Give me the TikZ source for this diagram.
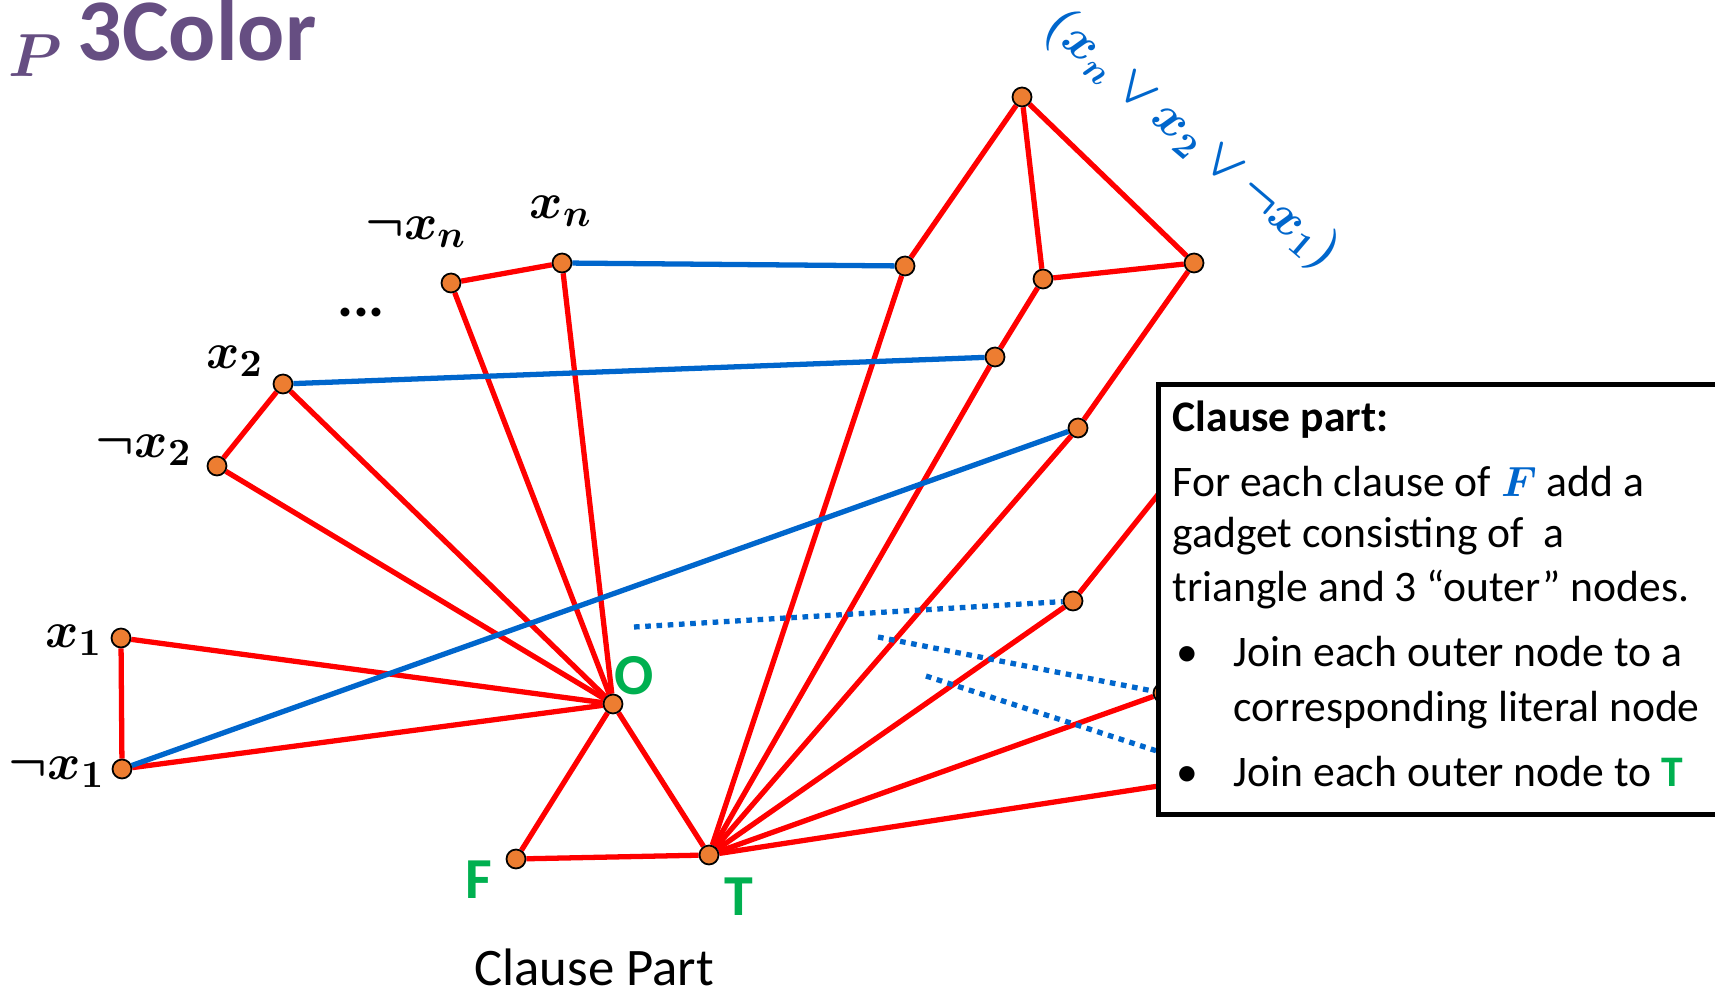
\documentclass[tikz,border=0pt]{standalone}
\usepackage{amsmath}
\usepackage{fontspec}
\setmainfont{Carlito}
\usetikzlibrary{positioning, backgrounds}
\definecolor{edgered}{HTML}{FF0000}
\definecolor{litblue}{HTML}{0066CC}
\definecolor{vertorange}{HTML}{ED7D31}
\definecolor{labgreen}{HTML}{00B050}
\definecolor{titlepurple}{HTML}{664E82}

\begin{document}
\begin{tikzpicture}[
    x=0.01cm, y=-0.01cm,
    vertex/.style={
        circle,
        draw=black,
        line width=.5pt,
        fill=vertorange,
        minimum size=5.4pt,
        inner sep=0pt
    },
    redge/.style={
        draw=edgered,
        line width=1.5pt
    },
    bedge/.style={
        draw=litblue,
        line width=1.5pt
    },
    dotedge/.style={
        draw=litblue,
        line width=1.5pt,
        dash pattern=on 1.6pt off 1.6pt
    },
    lit/.style={
        inner sep=0pt,
        font=\fontsize{15}{18}\selectfont\boldmath
    },
    gname/.style={
        inner sep=0pt,
        text=labgreen,
        font=\fontsize{16.5}{20}\selectfont\bfseries
    },
    infobox/.style={
        draw=black,
        line width=1.4pt,
        fill=white,
        inner sep=0pt
    },
    boxtext/.style={
        anchor=base west,
        inner sep=0pt,
        font=\fontsize{12.4}{14}\selectfont
    },
    boxhead/.style={
        anchor=base west,
        inner sep=0pt,
        font=\fontsize{12.4}{14}\selectfont\bfseries
    }
]
\useasboundingbox (0,0) rectangle (1715,995);

% ------------------------------------------------
% Title
% ------------------------------------------------
\node[anchor=base west, inner sep=0pt, text=titlepurple,
      font=\fontsize{18}{22}\selectfont\boldmath] (ptag) at (8,77) {$P$};
\node[anchor=base west, inner sep=0pt, text=titlepurple,
      font=\fontsize{25}{30}\selectfont\bfseries] (title) at (77,61) {3Color};

% ------------------------------------------------
% Literal nodes
% ------------------------------------------------
\node[vertex] (x1)  at (121,638) {};
\node[vertex] (nx1) at (122,769) {};
\node[vertex] (nx2) at (217,466) {};
\node[vertex] (x2)  at (283,384) {};
\node[vertex] (nxn) at (451,283) {};
\node[vertex] (xn)  at (562,263) {};

\node[lit] (lx1)  at (74,640)  {$x_1$};
\node[lit] (lnx1) at (57,772)  {$\neg x_1$};
\node[lit] (lnx2) at (144,450) {$\neg x_2$};
\node[lit] (lx2)  at (235,361) {$x_2$};
\node[lit] (lnxn) at (416,232) {$\neg x_n$};
\node[lit] (lxn)  at (561,211) {$x_n$};
\node[anchor=base, inner sep=0pt, font=\fontsize{17}{20}\selectfont\bfseries] (dots) at (361,317) {...};

% ------------------------------------------------
% Palette triangle
% ------------------------------------------------
\node[vertex] (O) at (613,704) {};
\node[vertex] (F) at (516,859) {};
\node[vertex] (T) at (709,855) {};

\node[gname] (lO) at (634,676) {O};
\node[gname] (lF) at (479,880) {F};
\node[gname] (lT) at (739,897) {T};

\node[anchor=base, inner sep=0pt, font=\fontsize{15}{18}\selectfont] (cpart) at (594,985) {Clause Part};

% ------------------------------------------------
% Clause gadget
% ------------------------------------------------
\node[vertex] (ctop)   at (1022,97)  {};
\node[vertex] (cleft)  at (1043,279) {};
\node[vertex] (cright) at (1194,263) {};
\node[vertex] (oxn)    at (905,266)  {};
\node[vertex] (ox2)    at (995,357)  {};
\node[vertex] (onx1)   at (1078,428) {};

\node[lit, text=litblue, rotate=-40.5, font=\fontsize{14.5}{17}\selectfont\boldmath]
  (clause) at (1192,140) {$(x_n\,{\vee}\,x_2\,{\vee}\,{\neg}x_1)$};

% next gadget, mostly under the box
\node[vertex] (pa) at (1073,601) {};
\node[vertex] (pb) at (1163,693) {};
\coordinate (pc) at (1250,772);
\coordinate (pd) at (1200,442);

\coordinate (da) at (634,627);
\coordinate (db) at (878,637);
\coordinate (dc) at (926,676);
\coordinate (dd) at (1200,765);

% ------------------------------------------------
% Edges
% ------------------------------------------------
\begin{pgfonlayer}{background}
\foreach \i in {x1,nx1,x2,nx2,xn,nxn}{
  \draw[redge] (\i) -- (O);
}
\draw[redge] (x1) -- (nx1);
\draw[redge] (x2) -- (nx2);
\draw[redge] (xn) -- (nxn);
\draw[redge] (O) -- (F) -- (T) -- (O);

\draw[redge] (ctop) -- (cleft) -- (cright) -- (ctop);
\draw[redge] (ctop) -- (oxn);
\draw[redge] (cleft) -- (ox2);
\draw[redge] (cright) -- (onx1);
\foreach \j in {oxn,ox2,onx1,pa,pb,pc}{
  \draw[redge] (T) -- (\j);
}
\draw[redge] (pa) -- (pd);

\draw[bedge] (xn) -- (oxn);
\draw[bedge] (x2) -- (ox2);
\draw[bedge] (nx1) -- (onx1);

\draw[dotedge] (da) -- (pa);
\draw[dotedge] (db) -- (pb);
\draw[dotedge] (dc) -- (dd);
\end{pgfonlayer}

% ------------------------------------------------
% Info box
% ------------------------------------------------
\node[infobox, anchor=north west, minimum width=6cm, minimum height=4.3cm] (box) at (1156,382) {};

\node[boxhead] (bhead) at (1172,432) {Clause part:};
\node[boxtext] (bl1) at (1172,497) {For each clause of \textcolor{litblue}{\boldmath$F$} add a};
\node[boxtext] (bl2) at (1172,548) {gadget consisting of\ \ a};
\node[boxtext] (bl3) at (1172,602) {triangle and 3 “outer” nodes.};
\node[boxtext] (bu1) at (1176,667) {\textbullet};
\node[boxtext] (bl4) at (1233,667) {Join each outer node to a};
\node[boxtext] (bl5) at (1233,722) {corresponding literal node};
\node[boxtext] (bu2) at (1176,787) {\textbullet};
\node[boxtext] (bl6) at (1233,787) {Join each outer node to \textcolor{labgreen}{\textbf{T}}};

\end{tikzpicture}
\end{document}
